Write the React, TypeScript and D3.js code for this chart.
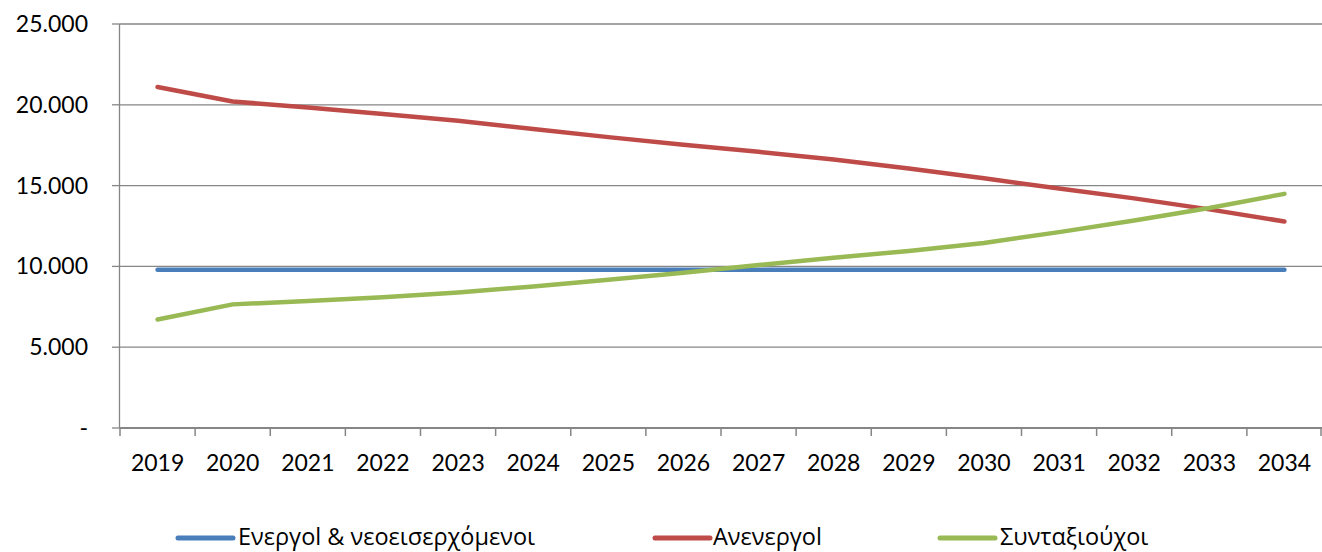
import React from "react";
import * as d3 from "d3";

const years = ["2019","2020","2021","2022","2023","2024","2025","2026","2027","2028","2029","2030","2031","2032","2033","2034"];
const active = [9800,9800,9800,9800,9800,9800,9800,9800,9800,9800,9800,9800,9800,9800,9800,9800];
const unemployed = [21100,20200,19840,19430,19010,18500,18000,17530,17090,16610,16060,15450,14820,14210,13530,12780];
const pensioners = [6710,7650,7860,8090,8380,8760,9180,9600,10080,10530,10960,11450,12120,12840,13610,14490];
const yTicks = [0,5000,10000,15000,20000,25000];
const yTickLabels = ["-","5.000","10.000","15.000","20.000","25.000"];
const seriesNames = ["Ενεργοl & νεοεισερχόμενοι","Ανενεργοl","Συνταξιούχοι"];
const seriesColors = ["#4a7ebb","#be4b48","#98b954"];

const W = 1322, H = 552;
const left = 120, right = 1322, top = 24, bottom = 428;

export default function App() {
  const x = d3.scaleBand<string>().domain(years).range([left, right]);
  const y = d3.scaleLinear().domain([0, 25000]).range([bottom, top]);
  const line = d3.line<number>()
    .x((_, i) => (x(years[i]) as number) + x.bandwidth() / 2)
    .y((d) => y(d));
  const series = [active, unemployed, pensioners];
  const grid = "#868686";
  const tickFont = "Lato, 'Noto Sans', sans-serif";
  const legendFont = "'Open Sans', 'Noto Sans', sans-serif";
  const legendItems = [
    { lx: 178, tx: 238 },
    { lx: 655, tx: 713 },
    { lx: 940, tx: 1000 },
  ];
  return (
    <div style={{ position: "absolute", left: 0, top: 0 }}>
      <svg width={W} height={H} style={{ display: "block", background: "#fff" }}>
        {yTicks.map((t, i) => (
          <g key={t}>
            {t > 0 && (
              <line x1={left} x2={right} y1={y(t)} y2={y(t)} stroke={grid} strokeWidth={1.3} />
            )}
            <line x1={112} x2={left} y1={y(t)} y2={y(t)} stroke={grid} strokeWidth={1.3} />
            <text x={88} y={y(t)} dy="0.35em" textAnchor="end" fontFamily={tickFont} fontSize={23} fill="#000">
              {yTickLabels[i]}
            </text>
          </g>
        ))}
        <line x1={left - 0.5} x2={left - 0.5} y1={top} y2={bottom} stroke={grid} strokeWidth={1.3} />
        <line x1={left} x2={right} y1={bottom} y2={bottom} stroke={grid} strokeWidth={2} />
        {years.concat(["end"]).map((yr, i) => {
          const xx = i < years.length ? (x(yr) as number) : right - 1;
          return <line key={"t" + i} x1={xx} x2={xx} y1={bottom} y2={bottom + 8} stroke={grid} strokeWidth={1.5} />;
        })}
        {years.map((yr) => (
          <text key={yr} x={(x(yr) as number) + x.bandwidth() / 2} y={471} textAnchor="middle" fontFamily={tickFont} fontSize={23} fill="#000">
            {yr}
          </text>
        ))}
        {series.map((s, i) => (
          <path key={i} d={line(s) || ""} fill="none" stroke={seriesColors[i]} strokeWidth={4.5} strokeLinecap="round" strokeLinejoin="round" />
        ))}
        {seriesNames.map((n, i) => (
          <g key={n}>
            <line x1={legendItems[i].lx} x2={legendItems[i].lx + 55} y1={538} y2={538} stroke={seriesColors[i]} strokeWidth={5} strokeLinecap="round" />
            <text x={legendItems[i].tx} y={545} fontFamily={legendFont} fontSize={23.5} fill="#000">{n}</text>
          </g>
        ))}
      </svg>
    </div>
  );
}
